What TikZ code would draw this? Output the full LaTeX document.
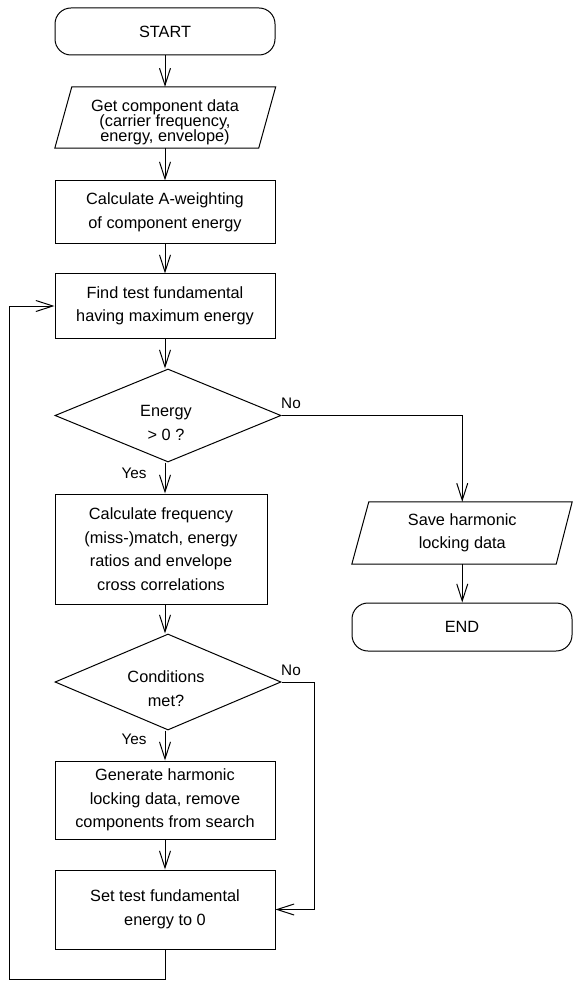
\documentclass[tikz,border=0pt]{standalone}
\usepackage{fontspec}
\setmainfont{Liberation Sans}
\usetikzlibrary{arrows.meta,shapes.geometric}

\newcommand\flowfont{\fontsize{16.3}{23.5}\selectfont}
\newcommand\tightfont{\fontsize{16.3}{15.2}\selectfont\lineskiplimit=-20pt\relax}
\newcommand\tagfont{\fontsize{15.3}{18}\selectfont}

\tikzset{
  flow/.style={line width=1pt},
  arr/.style={flow, -{Straight Barb[length=17pt,width=11pt,line width=1pt]}},
  procbox/.style={draw, flow, align=center, inner sep=0pt, font=\flowfont,
                  minimum width=220, minimum height=64},
  term/.style={procbox, rounded corners=16},
  iotext/.style={align=center, inner sep=0pt, minimum width=203.5},
  decision/.style={draw, flow, diamond, inner sep=0pt, minimum width=226},
  dectext/.style={align=center, inner sep=0pt, font=\flowfont},
  tag/.style={inner sep=0pt, font=\tagfont},
}

\begin{document}
\begin{tikzpicture}[x=1pt,y=-1pt]
  \useasboundingbox (0,0) rectangle (573,981);

  % main column
  \node[term, minimum height=47] (start) at (165,31.5) {START};

  \node[iotext, minimum height=61] (get) at (165.25,117.5) {};
  \draw[flow] ([xshift=8.5pt]get.north west) -- ([xshift=8.5pt]get.north east)
    -- ([xshift=-8.5pt]get.south east) -- ([xshift=-8.5pt]get.south west) -- cycle;
  \node[iotext, font=\tightfont] (gett) at (165,122)
    {Get component data\\(carrier frequency,\\energy, envelope)};

  \node[procbox, minimum height=63] (aw) at (165,212.5)
    {Calculate A-weighting\\of component energy};
  \node[procbox] (find) at (165,306)
    {Find test fundamental\\having maximum energy};

  \node[decision, minimum height=93] (dec1) at (168,415.5) {};
  \node[dectext] (dec1t) at (166,423) {Energy\\> 0 ?};

  \node[procbox, minimum width=212, minimum height=110] (calc) at (161,549)
    {Calculate frequency\\(miss-)match, energy\\ratios and envelope\\cross correlations};

  \node[decision, minimum height=96] (dec2) at (168,682) {};
  \node[dectext] (dec2t) at (166,688.5) {Conditions\\met?};

  \node[procbox, minimum height=78] (gen) at (165,800)
    {Generate harmonic\\locking data, remove\\components from search};
  \node[procbox, minimum height=79] (set) at (165,909.5)
    {Set test fundamental\\energy to 0};

  % right column
  \node[iotext, minimum height=62, font=\flowfont] (save) at (462.25,533)
    {Save harmonic\\locking data};
  \draw[flow] ([xshift=8.5pt]save.north west) -- ([xshift=8pt]save.north east)
    -- ([xshift=-8pt]save.south east) -- ([xshift=-8.5pt]save.south west) -- cycle;
  \node[term, minimum height=48] (end) at (462,627) {END};

  % branch labels
  \node[tag] (no1)  at (291,403) {No};
  \node[tag] (yes1) at (134,473) {Yes};
  \node[tag] (no2)  at (291,670) {No};
  \node[tag] (yes2) at (134,739) {Yes};

  % routing points
  \coordinate (side) at (314,682);
  \coordinate (loop) at (9,979);

  % connectors
  \draw[arr] (start.south) -- (start.south |- get.north);
  \draw[arr] (start.south |- get.south) -- (start.south |- aw.north);
  \draw[arr] (aw.south) -- (find.north);
  \draw[arr] (find.south) -- (find.south |- dec1.north);
  \draw[arr] (find.south |- dec1.south) -- (find.south |- calc.north);
  \draw[arr] (find.south |- calc.south) -- (find.south |- dec2.north);
  \draw[arr] (find.south |- dec2.south) -- (gen.north);
  \draw[arr] (gen.south) -- (set.north);
  \draw[arr] (dec1.east) -| (save.north);
  \draw[arr] (save.south) -- (save.south |- end.north);
  \draw[arr] (dec2.east) -- (side) |- (set.east);
  \draw[arr] (set.south) |- (loop) |- (find.west);
\end{tikzpicture}
\end{document}
